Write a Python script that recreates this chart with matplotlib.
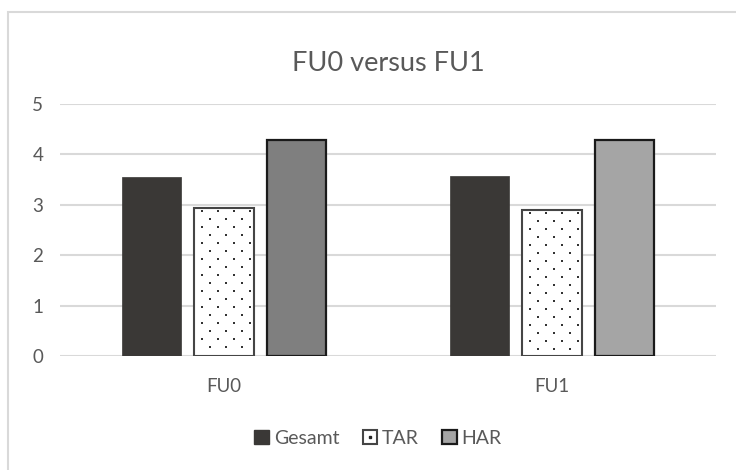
import numpy as np
import matplotlib.pyplot as plt
from matplotlib.patches import Patch, Rectangle
from matplotlib.lines import Line2D

categories = ['FU0', 'FU1']
series_names = ['Gesamt', 'TAR', 'HAR']
gesamt = [3.55, 3.57]
tar = [2.93, 2.89]
har = [4.28, 4.28]
y_ticks = [0, 1, 2, 3, 4, 5]

text_col = '#595959'
grid_col = '#d9d9d9'
plt.rcParams['font.family'] = ['Lato', 'DejaVu Sans']

fig = plt.figure(figsize=(7.36, 4.70), dpi=100)
ax = fig.add_axes([60 / 736, 1 - 356 / 470, 656 / 736, 252 / 470])

# outer chart border (only left and top edges are in view)
fig.add_artist(Rectangle((8 / 736, -0.1), 1.2, 1 - 12 / 470 + 0.1,
                         transform=fig.transFigure, fill=False,
                         edgecolor=grid_col, lw=1.5))

x = np.arange(len(categories))
w = 0.18
off = 0.222

ax.bar(x - off, gesamt, w, color='#3a3836', edgecolor='#3a3836', lw=0.5, zorder=3)
tar_bars = ax.bar(x, tar, w, color='white', edgecolor='#454545', lw=1.5, zorder=3)
ax.bar(x + off, har, w, color=['#7f7f7f', '#a5a5a5'], edgecolor='#1a1a1a', lw=1.6, zorder=3)

ax.set_xlim(-0.5, 1.5)
ax.set_ylim(0, 5)
ax.set_yticks(y_ticks)
ax.set_xticks(x)
ax.set_xticklabels(categories)
ax.tick_params(length=0, labelsize=13.5, colors=text_col)
ax.tick_params(axis='y', pad=12)
ax.tick_params(axis='x', pad=16)
ax.grid(axis='y', color=grid_col, lw=1.5, zorder=0)
for s in ax.spines.values():
    s.set_visible(False)

# dotted fill for TAR bars, laid out in pixel space
fig.canvas.draw()
inv = ax.transData.inverted()
for b in tar_bars:
    (x0, y0), (x1, y1) = ax.transData.transform([(b.get_x(), 0), (b.get_x() + b.get_width(), b.get_height())])
    pts = []
    row = 0
    yy = y1 - 3
    while yy > y0 + 2:
        start = x0 + 8 if row % 2 == 0 else x0 + 16
        xx = start
        while xx < x1 - 3:
            pts.append((xx, yy))
            xx += 16
        yy -= 8
        row += 1
    d = inv.transform(pts)
    ax.scatter(d[:, 0], d[:, 1], s=2.5, color='#333333', marker='s', lw=0, zorder=4)

ax.set_title('FU0 versus FU1', fontsize=19.5, color=text_col, pad=24)

handles = [
    Patch(facecolor='#3a3836', edgecolor='#3a3836'),
    (Patch(facecolor='white', edgecolor='#454545', lw=1.5),
     Line2D([], [], ls='none', marker='s', ms=1.5, color='#222222')),
    Patch(facecolor='#a5a5a5', edgecolor='#1a1a1a', lw=1.6),
]
fig.legend(handles, series_names, loc='center', bbox_to_anchor=(378 / 736, 1 - 438 / 470),
           ncol=3, frameon=False, fontsize=14, labelcolor=text_col,
           handlelength=0.75, handleheight=0.75, handletextpad=0.25, columnspacing=1.2)

fig.savefig('out.png', dpi=100)
